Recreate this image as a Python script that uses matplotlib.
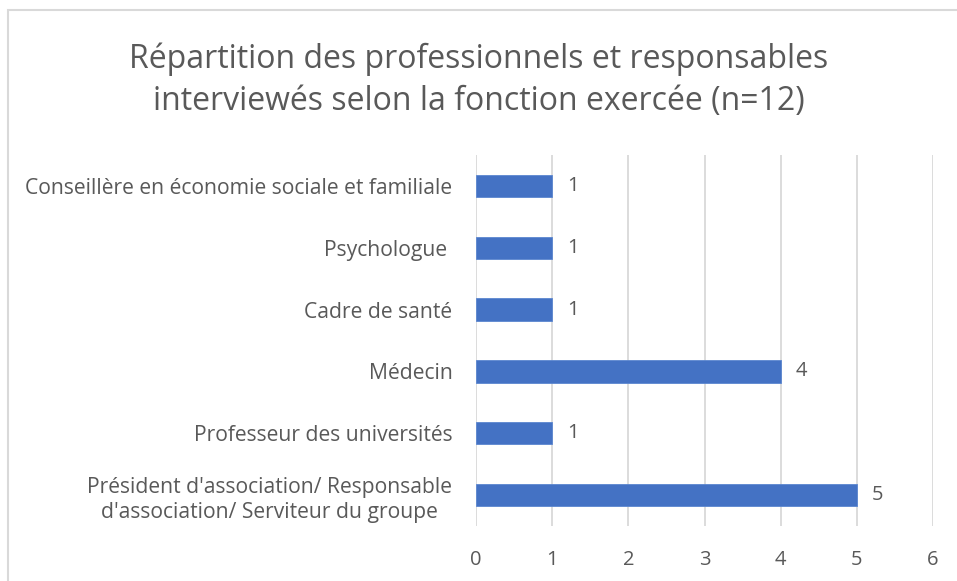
import matplotlib.pyplot as plt
from matplotlib.patches import Rectangle

# fonctions des personnes interviewées (de bas en haut)
fonctions = ["Président d'association/ Responsable\nd'association/ Serviteur du groupe",
             "Professeur des universités",
             "Médecin",
             "Cadre de santé",
             "Psychologue ",
             "Conseillère en économie sociale et familiale"]
effectifs = [5, 1, 4, 1, 1, 1]
xticks = [0, 1, 2, 3, 4, 5, 6]

gris = '#595959'
bleu = '#4472C4'

plt.rcParams['font.family'] = ['Open Sans', 'DejaVu Sans']

W, H = 957, 581
fig = plt.figure(figsize=(W / 100, H / 100), dpi=100)
ax = fig.add_axes([476 / W, 1 - 526 / H, (933 - 476) / W, (526 - 155) / H])

y = range(len(fonctions))
ax.barh(y, effectifs, height=0.36, color=bleu, edgecolor='#5b86d0', linewidth=0.6, zorder=3)
for yi, v in zip(y, effectifs):
    ax.text(v + 0.2, yi, str(v), va='center', ha='left', fontsize=14.5, color=gris)

ax.set_xlim(0, 6)
ax.set_ylim(-0.5, len(fonctions) - 0.5)
ax.set_xticks(xticks)
ax.set_yticks(list(y))
ax.set_yticklabels(fonctions, multialignment='center', linespacing=1.3)
ax.tick_params(axis='both', length=0, colors=gris, labelsize=15.2)
ax.tick_params(axis='x', labelsize=14.5, pad=17)
ax.tick_params(axis='y', pad=17)
ax.grid(axis='x', color='#d9d9d9', linewidth=1.3, zorder=0)
for s in ax.spines.values():
    s.set_visible(False)

fig.text(0.5, 1 - 80 / H,
         "Répartition des professionnels et responsables\ninterviewés selon la fonction exercée (n=12)",
         ha='center', va='center', fontsize=23, color=gris, linespacing=1.38)

# cadre du graphique
fig.patches.append(Rectangle((8 / W, -0.05), 1.2, 1 - 10 / H + 0.05, transform=fig.transFigure,
                             fill=False, edgecolor='#d9d9d9', linewidth=1.5))

fig.savefig('out.png', dpi=100)
